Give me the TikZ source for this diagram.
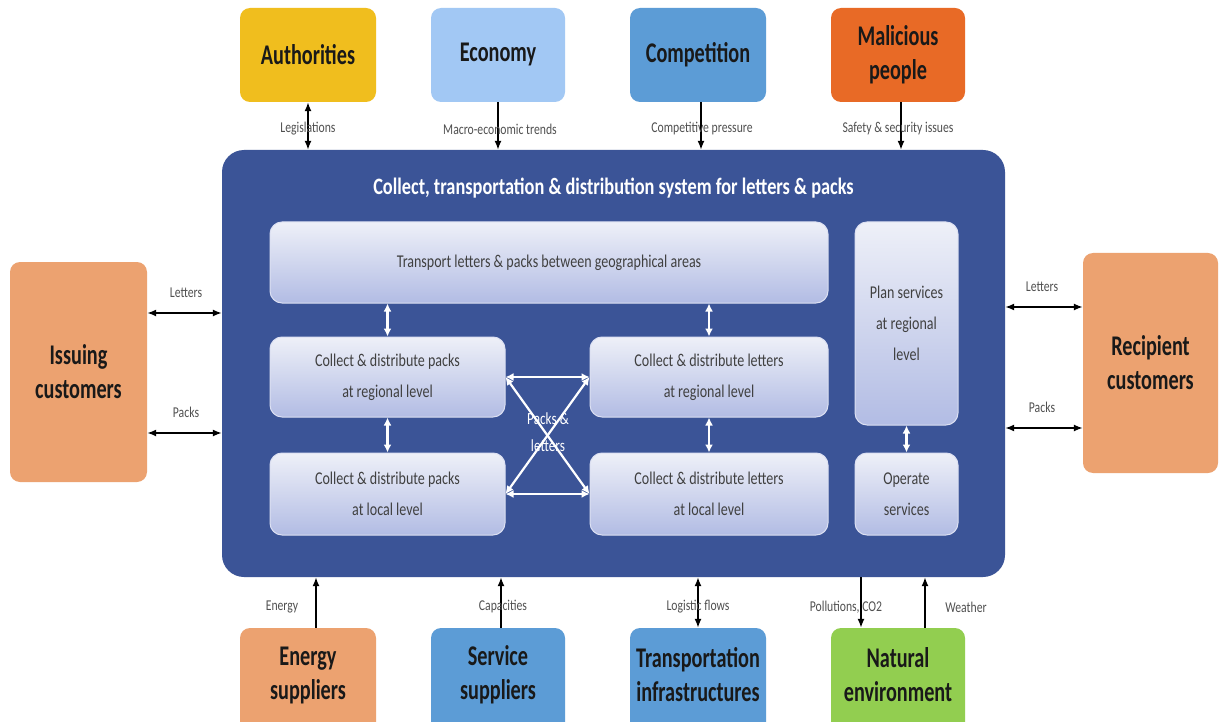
\documentclass[tikz,border=0pt]{standalone}
\usepackage{fontspec}
\setmainfont{Carlito}[FakeStretch=0.78]
\newfontfamily\condfont{Carlito}[FakeStretch=0.71]
\usetikzlibrary{arrows.meta}
\definecolor{cauth}{RGB}{240,190,30}
\definecolor{cecon}{RGB}{162,200,244}
\definecolor{cblue}{RGB}{92,156,214}
\definecolor{cmal}{RGB}{232,106,38}
\definecolor{cpeach}{RGB}{236,162,112}
\definecolor{cgreen}{RGB}{146,206,80}
\definecolor{cmain}{RGB}{59,84,151}
\definecolor{cintop}{RGB}{238,240,248}
\definecolor{cinbot}{RGB}{178,188,228}
\definecolor{cintext}{RGB}{64,64,64}
\definecolor{clab}{RGB}{80,80,80}
\tikzset{
  outerbox/.style={rounded corners=10pt, minimum width=136pt, minimum height=94pt, align=center, inner sep=0pt},
  outerfont/.style={font=\condfont\fontsize{28.5}{34}\selectfont\bfseries, text=black!90, align=center},
  inbox/.style={rounded corners=12pt, top color=cintop, bottom color=cinbot, draw=cintop!70!cinbot, line width=1pt,
     text=cintext, font=\fontsize{18}{31}\selectfont, align=center, inner sep=0pt},
  edgelab/.style={font=\fontsize{15}{17}\selectfont, text=clab},
  barrow/.style={line width=1.5pt, draw=black, -{Latex[length=9pt,width=7pt]}},
  bdarrow/.style={line width=1.5pt, draw=black, {Latex[length=9pt,width=7pt]}-{Latex[length=9pt,width=7pt]}},
  wdarrow/.style={line width=2.2pt, draw=white, {Latex[length=8pt,width=8pt]}-{Latex[length=8pt,width=8pt]}},
}
\begin{document}
\begin{tikzpicture}[x=1pt,y=-1pt]
\useasboundingbox (0,0) rectangle (1221,722);
\clip (0,0) rectangle (1221,722);
\fill[white] (0,0) rectangle (1221,722);

% main system
\node[fill=cmain, rounded corners=22pt, minimum width=783pt, minimum height=427pt, inner sep=0pt] (main) at (613.5,363.5) {};
\node[font=\fontsize{23.5}{27}\selectfont\bfseries, text=white] (title) at (613.5,188) {Collect, transportation \& distribution system for letters \& packs};

% inner boxes
\node[inbox, minimum width=558pt, minimum height=81pt] (transport) at (549,262.5) {Transport letters \& packs between geographical areas};
\node[inbox, minimum width=235pt, minimum height=80pt] (packreg) at (387.5,377) {Collect \& distribute packs\\at regional level};
\node[inbox, minimum width=238pt, minimum height=80pt] (letreg) at (709,377) {Collect \& distribute letters\\at regional level};
\node[inbox, minimum width=235pt, minimum height=82pt] (packloc) at (387.5,494) {Collect \& distribute packs\\at local level};
\node[inbox, minimum width=238pt, minimum height=82pt] (letloc) at (709,494) {Collect \& distribute letters\\at local level};
\node[inbox, minimum width=103pt, minimum height=203pt] (plan) at (906.5,323.5) {Plan services\\at regional\\level};
\node[inbox, minimum width=103pt, minimum height=82pt] (operate) at (906.5,494) {Operate\\services};

% inner arrows
\draw[wdarrow] (transport.south -| packreg.north) -- (packreg.north);
\draw[wdarrow] (transport.south -| letreg.north) -- (letreg.north);
\draw[wdarrow] (packreg.south) -- (packloc.north);
\draw[wdarrow] (letreg.south) -- (letloc.north);
\draw[wdarrow] (plan.south) -- (operate.north);
\draw[wdarrow] (packreg.east) -- (letreg.west);
\draw[wdarrow] (packloc.east) -- (letloc.west);
\draw[wdarrow] (packreg.east) -- (letloc.west);
\draw[wdarrow] (packloc.east) -- (letreg.west);
\node[font=\fontsize{17}{27}\selectfont, text=white, align=center] (pl) at (548,432) {Packs \&\\letters};

% top boxes
\node[outerbox, outerfont, fill=cauth] (auth) at (308,55) {Authorities};
\node[outerbox, outerfont, fill=cecon, minimum width=134pt] (econ) at (498,55) {Economy};
\node[outerbox, outerfont, fill=cblue] (comp) at (698,55) {Competition};
\node[outerbox, outerfont, fill=cmal, minimum width=134pt] (mal) at (898,55) {Malicious\\people};

\draw[bdarrow] (auth.south) -- (auth.south |- main.north);
\draw[barrow] (econ.south) -- (econ.south |- main.north);
\draw[barrow] ([xshift=3pt]comp.south) -- ([xshift=3pt]comp.south |- main.north);
\draw[barrow] ([xshift=3pt]mal.south) -- ([xshift=3pt]mal.south |- main.north);
\node[edgelab] (l1) at (308,129) {Legislations};
\node[edgelab] (l2) at (500,129) {Macro-economic trends};
\node[edgelab] (l3) at (702,129) {Competitive pressure};
\node[edgelab] (l4) at (898,129) {Safety \& security issues};

% side boxes
\node[outerbox, outerfont, fill=cpeach, minimum width=137pt, minimum height=220pt] (issuing) at (78.5,372) {Issuing\\customers};
\node[outerbox, outerfont, fill=cpeach, minimum width=135pt, minimum height=220pt] (recip) at (1150.5,363) {Recipient\\customers};

\draw[bdarrow] ([yshift=59pt]issuing.east) -- ([yshift=59pt]issuing.east -| main.west);
\draw[bdarrow] ([yshift=-61pt]issuing.east) -- ([yshift=-61pt]issuing.east -| main.west);
\node[edgelab] (ll) at (186,293) {Letters};
\node[edgelab] (lp) at (186,412) {Packs};
\draw[bdarrow] ([yshift=56pt]recip.west) -- ([yshift=56pt]recip.west -| main.east);
\draw[bdarrow] ([yshift=-65pt]recip.west) -- ([yshift=-65pt]recip.west -| main.east);
\node[edgelab] (rl) at (1042,287) {Letters};
\node[edgelab] (rp) at (1042,407) {Packs};

% bottom boxes
\node[outerbox, fill=cpeach, minimum height=112pt, label={[outerfont, yshift=9pt]center:Energy\\suppliers}] (energy) at (308,684) {};
\node[outerbox, fill=cblue, minimum width=134pt, minimum height=112pt, label={[outerfont, yshift=9pt]center:Service\\suppliers}] (serv) at (498,684) {};
\node[outerbox, fill=cblue, minimum height=112pt, label={[outerfont, yshift=9pt]center:Transportation\\infrastructures}] (transp) at (698,684) {};
\node[outerbox, fill=cgreen, minimum width=134pt, minimum height=112pt, label={[outerfont, yshift=9pt]center:Natural\\environment}] (nat) at (898,684) {};

\draw[barrow] ([xshift=8pt]energy.north) -- ([xshift=8pt]energy.north |- main.south);
\draw[barrow] ([xshift=3pt]serv.north) -- ([xshift=3pt]serv.north |- main.south);
\draw[bdarrow] (transp.north) -- (transp.north |- main.south);
\draw[barrow] ([xshift=-37pt]nat.north |- main.south) -- ([xshift=-37pt]nat.north);
\draw[barrow] ([xshift=27pt]nat.north) -- ([xshift=27pt]nat.north |- main.south);
\node[edgelab] (b1) at (282,607) {Energy};
\node[edgelab] (b2) at (503,607) {Capacities};
\node[edgelab] (b3) at (698,607) {Logistic flows};
\node[edgelab] (b4) at (846,607) {Pollutions, CO2};
\node[edgelab] (b5) at (966,607) {Weather};
\end{tikzpicture}
\end{document}
